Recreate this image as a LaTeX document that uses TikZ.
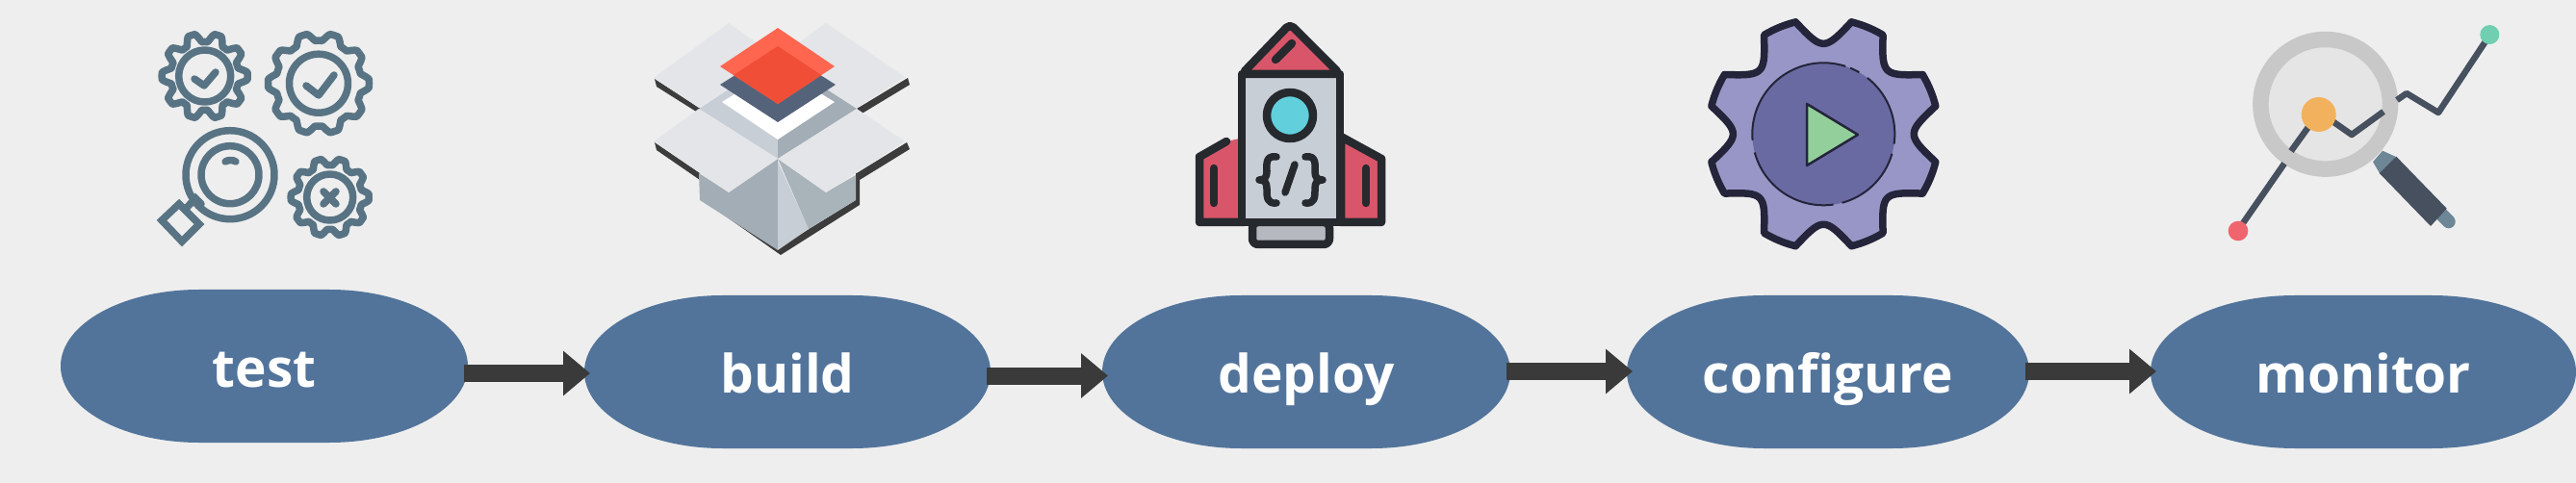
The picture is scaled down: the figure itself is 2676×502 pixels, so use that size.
\documentclass[tikz,border=0pt]{standalone}
\usepackage{fontspec}
\setmainfont{Open Sans}
\usetikzlibrary{arrows.meta}
\definecolor{bgc}{HTML}{EEEEEE}
\definecolor{pillc}{HTML}{52749B}
\definecolor{arrowc}{HTML}{3A3A3A}
\definecolor{slatec}{HTML}{587484}
\definecolor{flapc}{HTML}{E3E5E8}
\definecolor{boxa}{HTML}{A3ADB5}
\definecolor{boxb}{HTML}{C8CED6}
\definecolor{boxc}{HTML}{A9B3BA}
\definecolor{shadowc}{HTML}{3C3C3C}
\definecolor{layerd}{HTML}{55637A}
\definecolor{layerr}{HTML}{FF6650}
\definecolor{layers}{HTML}{F04E36}
\definecolor{inka}{HTML}{26292E}
\definecolor{redc}{HTML}{D9566A}
\definecolor{basec}{HTML}{B5B9BF}
\definecolor{winc}{HTML}{62CFDC}
\definecolor{gearl}{HTML}{9896C6}
\definecolor{geard}{HTML}{6A6AA3}
\definecolor{gink}{HTML}{24243A}
\definecolor{greenc}{HTML}{92CF9A}
\definecolor{monc}{HTML}{46505E}
\definecolor{necks}{HTML}{6E8796}
\definecolor{lensc}{HTML}{E6E5E5}
\definecolor{ringc}{HTML}{C8C8C8}
\definecolor{dotor}{HTML}{F2B25D}
\definecolor{dotre}{HTML}{F0646E}
\definecolor{dotgr}{HTML}{6FCFB0}
\tikzset{
  x=1pt,y=-1pt,
  pilltext/.style={text=white,font=\fontsize{55}{60}\selectfont\bfseries,inner sep=0pt,outer sep=0pt,rectangle,anchor=center,text height=44pt,text depth=0pt},
  flow/.style={draw=arrowc,line width=18pt,shorten <=-4pt,shorten >=-6pt,-{Triangle[width=45pt,length=28pt]}},
  slate/.style={draw=slatec,line width=7.5pt,line join=round,line cap=round},
  ink/.style={draw=inka,line width=8.5pt,line join=round,line cap=round},
  mon/.style={draw=monc,line width=6.5pt,line join=round,line cap=butt},
  declare function={
    gearr(\t,\R,\a)=\R+\a*max(-1,min(1,1.5*cos(10*\t)));
    ndist(\t)=22.5-abs(mod(\t+4500,45)-22.5);
    cogr(\t)=(ndist(\t)<14)?(120-26*(1-pow(ndist(\t)/14,2))):120;
  }
}
% \pill{name}{cx}{cy}{rx}{ry}{text}
\newcommand{\pill}[6]{%
  \fill[pillc] (#2-#4,#3) .. controls (#2-#4,#3-0.552*#5) and (#2-0.695*#4,#3-#5) .. (#2-0.32*#4,#3-#5)
    -- (#2+0.32*#4,#3-#5) .. controls (#2+0.695*#4,#3-#5) and (#2+#4,#3-0.552*#5) .. (#2+#4,#3)
    .. controls (#2+#4,#3+0.552*#5) and (#2+0.695*#4,#3+#5) .. (#2+0.32*#4,#3+#5)
    -- (#2-0.32*#4,#3+#5) .. controls (#2-0.695*#4,#3+#5) and (#2-#4,#3+0.552*#5) .. (#2-#4,#3) -- cycle;
  \node[pilltext,minimum width=2*#4 pt,minimum height=2*#5 pt] (#1) at (#2,#3) {#6};%
}
\newcommand{\smallgear}[4]{% cx cy Rmid amp
  \draw[slate] plot[domain=0:359,samples=360,smooth cycle] ({#1+gearr(\x,#3,#4)*cos(\x)},{#2+gearr(\x,#3,#4)*sin(\x)});
}
\newcommand{\ringarc}[2]{%
  \draw[gink,line width=2pt] plot[domain=#1:#2,samples=40] ({1894.3+74*cos(\x)},{139.3+74*sin(\x)});
}
\begin{document}
\begin{tikzpicture}
\useasboundingbox (0,0) rectangle (2676,502);
\fill[bgc] (0,0) rectangle (2676,502);

% --- test icon
\smallgear{212.7}{79}{40}{4.5}
\draw[slate] (212.7,79) circle (27);
\draw[slate] (202,82) -- (212,89) -- (224,75);
\smallgear{331}{86.7}{48.5}{4}
\draw[slate] (331,86.7) circle (30.5);
\draw[slate] (318,89) -- (331,99) -- (347,78);
\smallgear{342.7}{205}{37}{3.5}
\draw[slate] (342.7,205) circle (24);
\draw[slate] (336,199) -- (349,212) (349,199) -- (336,212);
\draw[slate] (239,181.7) circle (46);
\draw[slate] (239,181.7) circle (30);
\draw[slate] (234,168) .. controls (237,166) and (242,166) .. (245,168);
\draw[slate,line join=miter] (168,229) -- (186,212) -- (207,233) -- (189,251) -- cycle;
\draw[slate,line join=miter] (192,218) -- (203,206) -- (209,212);

% --- build icon
\fill[shadowc] (680,82) -- (728,113) -- (728,119) -- (682,90) -- cycle;
\fill[shadowc] (943,81) -- (890,113) -- (892,120) -- (945,88) -- cycle;
\fill[shadowc] (680,148) -- (727,180) -- (727,187) -- (682,156) -- cycle;
\fill[shadowc] (942,148) -- (890,180) -- (893,187) -- (945,155) -- cycle;
\fill[shadowc] (730,208) -- (811,265) -- (893,213) -- (893,180) -- (889,180) -- (889,208) -- (808,258) -- cycle;
\fill[flapc] (679,81) -- (757,24) -- (808,60) -- (726,112) -- cycle;
\fill[flapc] (858,24) -- (940,80) -- (890,112) -- (808,60) -- cycle;
\fill[boxb] (726,113) -- (808,60) -- (808,165) -- cycle;
\fill[boxa] (890,113) -- (808,60) -- (808,165) -- cycle;
\fill[white] (750,106) -- (808,70) -- (867,106) -- (808,145) -- cycle;
\fill[layerd] (748,88) -- (808,50) -- (868,88) -- (808,127) -- cycle;
\fill[layerr] (748,69) -- (808,29) -- (867,69) -- (808,108) -- cycle;
\fill[layers] (762,78) -- (808,48) -- (853,78) -- (808,108) -- cycle;
\fill[boxa] (726,180) -- (757,200) -- (808,165) -- (808,260) -- (727,208) -- cycle;
\fill[boxb] (808,168) -- (840,238) -- (808,260) -- cycle;
\fill[boxc] (808,165) -- (858,200) -- (889,182) -- (889,208) -- (840,238) -- cycle;
\fill[flapc] (679,147) -- (726,113) -- (808,165) -- (757,200) -- cycle;
\fill[flapc] (890,113) -- (940,147) -- (858,200) -- (808,165) -- cycle;

% --- deploy icon
\fill[redc] (1274,147) -- (1246,163) -- (1246,231) -- (1292,231) -- (1292,143) -- cycle;
\draw[ink] (1274,147) -- (1246,163) -- (1246,231) -- (1292,231);
\draw[ink,fill=redc] (1393,142) -- (1435,165) -- (1435,231) -- (1393,231) -- cycle;
\draw[ink,fill=basec,rounded corners=6pt] (1301,231) rectangle (1381,254);
\draw[ink,fill=boxb] (1290,77) rectangle (1392,231);
\draw[ink,fill=redc,rounded corners=5pt] (1290,77) -- (1340,25) -- (1392,77) -- cycle;
\draw[ink] (1325,62) -- (1342,45);
\draw[ink,fill=winc] (1340,120) circle (24);
\draw[ink] (1261,175) -- (1261,211) (1419,175) -- (1419,211);
\draw[ink,line width=7.5pt] (1326,163) .. controls (1314,161) and (1316,172) .. (1316,178) .. controls (1316,184) and (1314,187) .. (1308,187) .. controls (1314,187) and (1316,190) .. (1316,196) .. controls (1316,205) and (1316,212) .. (1326,211);
\draw[ink,line width=7.5pt] (1356,163) .. controls (1368,161) and (1366,172) .. (1366,178) .. controls (1366,184) and (1368,187) .. (1374,187) .. controls (1368,187) and (1366,190) .. (1366,196) .. controls (1366,205) and (1366,212) .. (1356,211);
\draw[ink,line width=7.5pt] (1345,171) -- (1335,200);

% --- configure icon
\draw[draw=gink,line width=7.5pt,fill=gearl,line join=round] plot[domain=0:359.5,samples=720] ({1894.3+cogr(\x)*cos(\x)},{139.3+cogr(\x)*sin(\x)}) -- cycle;
\fill[geard] (1894.3,139.3) circle (74);
\ringarc{-68}{-60}
\ringarc{-52}{8}
\ringarc{16}{75}
\ringarc{82}{165}
\ringarc{175}{288}
\draw[gink,fill=greenc,line width=2.5pt,line join=round] (1877,108) -- (1930,140) -- (1877,172) -- cycle;

% --- monitor icon
\fill[lensc] (2415.7,108.3) circle (62);
\draw[ringc,line width=16.5pt] (2415.7,108.3) circle (67.3);
\fill[necks] (2465,168.3) -- (2475,156.7) -- (2489,163) -- (2472,180) -- cycle;
\draw[necks,line width=14pt,line cap=round] (2535.7,222.3) -- (2543.7,230.3);
\fill[monc] (2489.3,162.7) -- (2541.7,216.7) -- (2525,235) -- (2471.7,180) -- cycle;
\draw[mon] (2330,232) -- (2373,170) (2380,157) -- (2398,132);
\draw[mon] (2423,126) -- (2443,140) -- (2476,116);
\draw[mon] (2490,104) -- (2500,97) -- (2533,117) -- (2582,43);
\fill[dotor] (2408.7,119) circle (18);
\fill[dotre] (2325,240) circle (10.3);
\fill[dotgr] (2586.3,36) circle (10);

% --- pills
\pill{test}{274.5}{380.5}{211.5}{79.5}{test}
\pill{build}{818}{386.5}{211}{79.5}{build}
\pill{deploy}{1357}{386.5}{212}{79.5}{deploy}
\pill{configure}{1899}{386.5}{209}{79.5}{configure}
\pill{monitor}{2455}{386.5}{221}{79.5}{monitor}

% --- connectors
\draw[flow] ([yshift=-7.5pt]test.east) -- ([yshift=-1.5pt]build.west);
\draw[flow] ([yshift=-4pt]build.east) -- ([yshift=-4pt]deploy.west);
\draw[flow] ([yshift=0.5pt]deploy.east) -- ([yshift=0.5pt]configure.west);
\draw[flow] ([yshift=0.5pt]configure.east) -- ([yshift=0.5pt]monitor.west);
\end{tikzpicture}
\end{document}
